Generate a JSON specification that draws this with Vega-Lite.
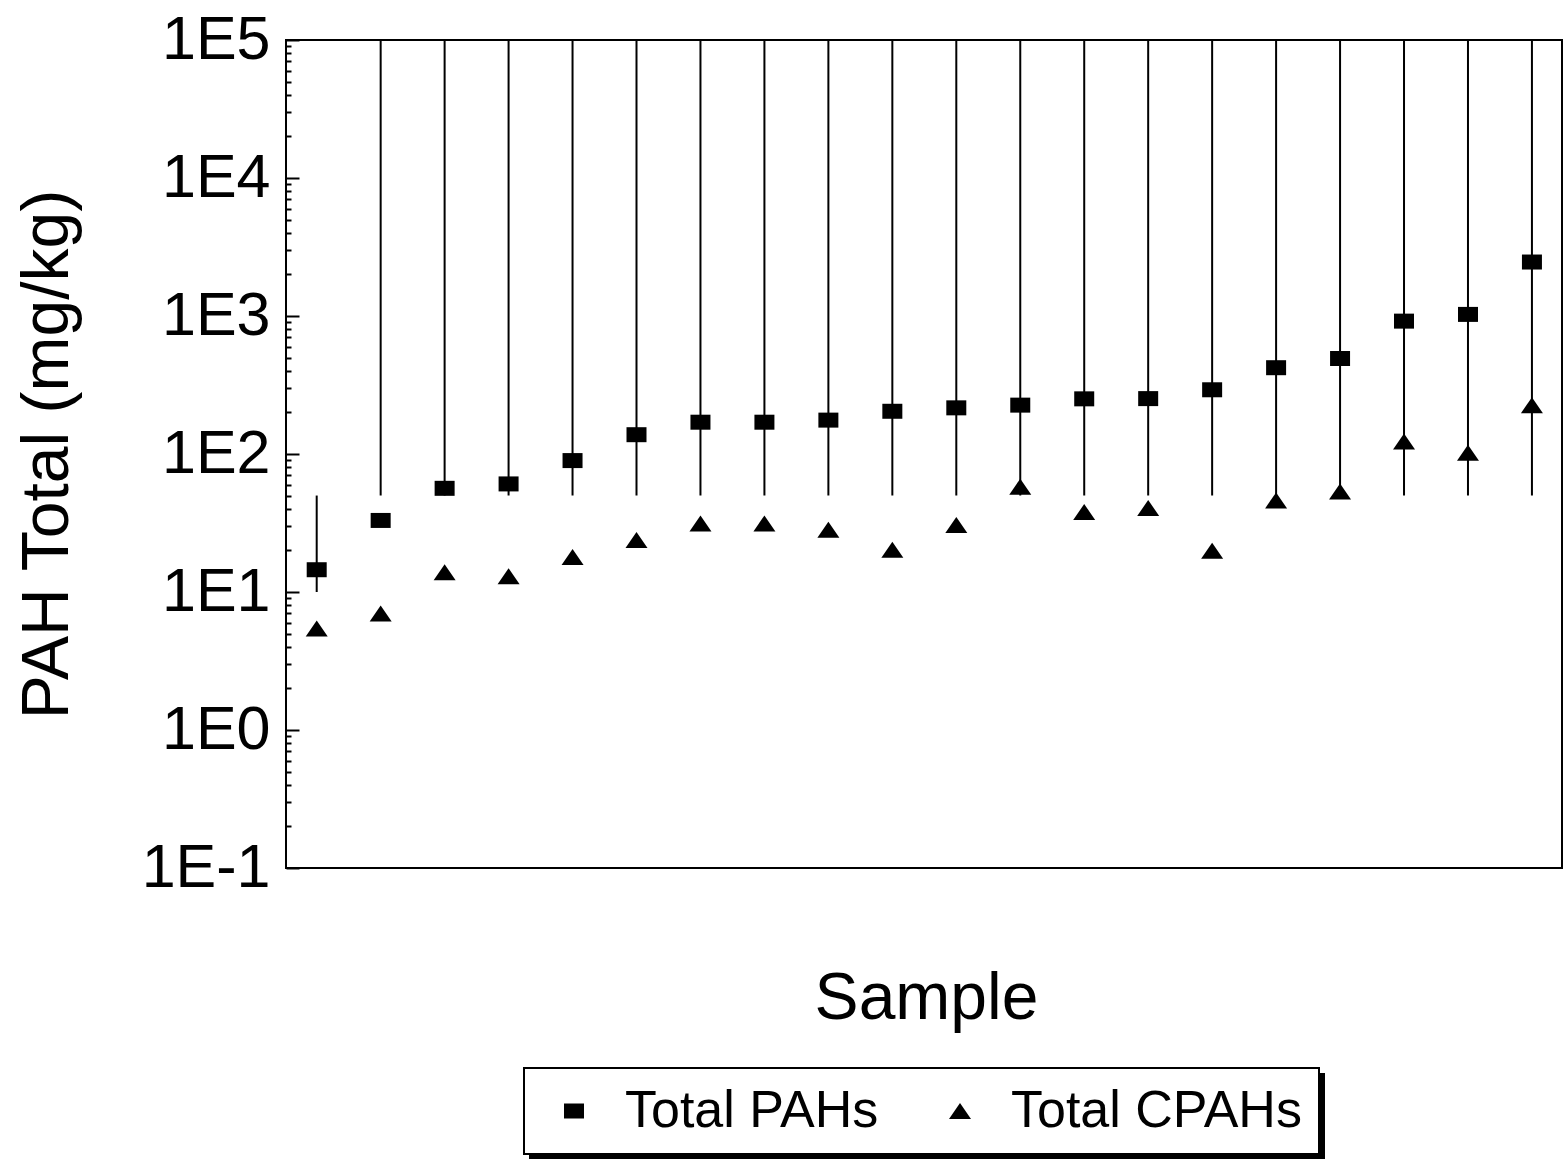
{
  "$schema": "https://vega.github.io/schema/vega-lite/v6.json",
  "autosize": "none",
  "padding": {"left": 286, "top": 40, "right": 4, "bottom": 291},
  "width": 1276,
  "height": 828,
  "background": "white",
  "config": {
    "view": {"stroke": "black", "strokeWidth": 2},
    "font": "Liberation Sans",
    "legend": {"strokeWidth": 2}
  },
  "datasets": {
    "pts": [
      {"sample": 1, "value": 14.5, "series": "Total PAHs", "group": "PAHs"},
      {"sample": 2, "value": 33.0, "series": "Total PAHs", "group": "PAHs"},
      {"sample": 3, "value": 56.4, "series": "Total PAHs", "group": "PAHs"},
      {"sample": 4, "value": 60.7, "series": "Total PAHs", "group": "PAHs"},
      {"sample": 5, "value": 89.6, "series": "Total PAHs", "group": "PAHs"},
      {"sample": 6, "value": 138, "series": "Total PAHs", "group": "PAHs"},
      {"sample": 7, "value": 170, "series": "Total PAHs", "group": "PAHs"},
      {"sample": 8, "value": 170, "series": "Total PAHs", "group": "PAHs"},
      {"sample": 9, "value": 176, "series": "Total PAHs", "group": "PAHs"},
      {"sample": 10, "value": 204, "series": "Total PAHs", "group": "PAHs"},
      {"sample": 11, "value": 216, "series": "Total PAHs", "group": "PAHs"},
      {"sample": 12, "value": 226, "series": "Total PAHs", "group": "PAHs"},
      {"sample": 13, "value": 251, "series": "Total PAHs", "group": "PAHs"},
      {"sample": 14, "value": 252, "series": "Total PAHs", "group": "PAHs"},
      {"sample": 15, "value": 292, "series": "Total PAHs", "group": "PAHs"},
      {"sample": 16, "value": 422, "series": "Total PAHs", "group": "PAHs"},
      {"sample": 17, "value": 492, "series": "Total PAHs", "group": "PAHs"},
      {"sample": 18, "value": 918, "series": "Total PAHs", "group": "PAHs"},
      {"sample": 19, "value": 1027, "series": "Total PAHs", "group": "PAHs"},
      {"sample": 20, "value": 2461, "series": "Total PAHs", "group": "PAHs"},
      {"sample": 1, "value": 5.43, "series": "Total CPAHs", "group": "CPAHs"},
      {"sample": 2, "value": 6.98, "series": "Total CPAHs", "group": "CPAHs"},
      {"sample": 3, "value": 13.9, "series": "Total CPAHs", "group": "CPAHs"},
      {"sample": 4, "value": 13.0, "series": "Total CPAHs", "group": "CPAHs"},
      {"sample": 5, "value": 17.9, "series": "Total CPAHs", "group": "CPAHs"},
      {"sample": 6, "value": 23.8, "series": "Total CPAHs", "group": "CPAHs"},
      {"sample": 7, "value": 31.4, "series": "Total CPAHs", "group": "CPAHs"},
      {"sample": 8, "value": 31.4, "series": "Total CPAHs", "group": "CPAHs"},
      {"sample": 9, "value": 28.3, "series": "Total CPAHs", "group": "CPAHs"},
      {"sample": 10, "value": 20.2, "series": "Total CPAHs", "group": "CPAHs"},
      {"sample": 11, "value": 30.6, "series": "Total CPAHs", "group": "CPAHs"},
      {"sample": 12, "value": 58.0, "series": "Total CPAHs", "group": "CPAHs"},
      {"sample": 13, "value": 38.0, "series": "Total CPAHs", "group": "CPAHs"},
      {"sample": 14, "value": 40.6, "series": "Total CPAHs", "group": "CPAHs"},
      {"sample": 15, "value": 19.9, "series": "Total CPAHs", "group": "CPAHs"},
      {"sample": 16, "value": 46.1, "series": "Total CPAHs", "group": "CPAHs"},
      {"sample": 17, "value": 53.6, "series": "Total CPAHs", "group": "CPAHs"},
      {"sample": 18, "value": 123, "series": "Total CPAHs", "group": "CPAHs"},
      {"sample": 19, "value": 102, "series": "Total CPAHs", "group": "CPAHs"},
      {"sample": 20, "value": 226, "series": "Total CPAHs", "group": "CPAHs"}
    ],
    "bars": [
      {"sample": 1, "lo": 10, "hi": 50},
      {"sample": 2, "lo": 50, "hi": 100000},
      {"sample": 3, "lo": 50, "hi": 100000},
      {"sample": 4, "lo": 50, "hi": 100000},
      {"sample": 5, "lo": 50, "hi": 100000},
      {"sample": 6, "lo": 50, "hi": 100000},
      {"sample": 7, "lo": 50, "hi": 100000},
      {"sample": 8, "lo": 50, "hi": 100000},
      {"sample": 9, "lo": 50, "hi": 100000},
      {"sample": 10, "lo": 50, "hi": 100000},
      {"sample": 11, "lo": 50, "hi": 100000},
      {"sample": 12, "lo": 50, "hi": 100000},
      {"sample": 13, "lo": 50, "hi": 100000},
      {"sample": 14, "lo": 50, "hi": 100000},
      {"sample": 15, "lo": 50, "hi": 100000},
      {"sample": 16, "lo": 50, "hi": 100000},
      {"sample": 17, "lo": 50, "hi": 100000},
      {"sample": 18, "lo": 50, "hi": 100000},
      {"sample": 19, "lo": 50, "hi": 100000},
      {"sample": 20, "lo": 50, "hi": 100000}
    ]
  },
  "layer": [
    {
      "data": {"name": "bars"},
      "mark": {"type": "rule", "color": "black", "strokeWidth": 2},
      "encoding": {
        "x": {
          "field": "sample", "type": "quantitative",
          "scale": {"domain": [0.52, 20.47], "nice": false, "zero": false},
          "axis": {
            "ticks": false, "labels": false, "domain": false, "grid": false,
            "title": "Sample", "titleFontSize": 66, "titleFontWeight": "normal",
            "titleColor": "black", "titleX": 640, "titleY": 150,
            "titleBaseline": "alphabetic", "titleAlign": "center"
          }
        },
        "y": {
          "field": "lo", "type": "quantitative",
          "scale": {"type": "log", "domain": [0.1, 100000], "nice": false},
          "axis": {
            "values": [0.1,0.2,0.3,0.4,0.5,0.6,0.7,0.8,0.9,1,2,3,4,5,6,7,8,9,10,20,30,40,50,60,70,80,90,100,200,300,400,500,600,700,800,900,1000,2000,3000,4000,5000,6000,7000,8000,9000,10000,20000,30000,40000,50000,60000,70000,80000,90000,100000],
            "labelExpr": "abs(log(datum.value)/LN10 - round(log(datum.value)/LN10)) < 0.001 ? '1E' + round(log(datum.value)/LN10) : ''",
            "tickSize": {"condition": {"test": "abs(log(datum.value)/LN10 - round(log(datum.value)/LN10)) < 0.001", "value": -13}, "value": -5},
            "tickWidth": 2, "tickColor": "black",
            "domain": false, "grid": false,
            "labelFontSize": 61, "labelColor": "black", "labelPadding": 29,
            "labelBaseline": "middle", "labelAlign": "right", "labelOverlap": false, "labelBound": false, "labelFlush": false,
            "title": "PAH Total (mg/kg)", "titleFontSize": 66, "titleFontWeight": "normal",
            "titleColor": "black", "titleX": -219, "titleY": 414, "titleAngle": -90,
            "titleBaseline": "alphabetic", "titleAlign": "center"
          }
        },
        "y2": {"field": "hi"}
      }
    },
    {
      "data": {"name": "pts"},
      "mark": {"type": "point", "filled": true, "opacity": 1, "color": "black"},
      "encoding": {
        "x": {"field": "sample", "type": "quantitative"},
        "y": {"field": "value", "type": "quantitative"},
        "shape": {
          "field": "series", "type": "nominal",
          "scale": {"domain": ["Total PAHs", "Total CPAHs"], "range": ["M-1,-0.75H1V0.75H-1Z", "M-1.1,0.8L1.1,0.8L0,-0.8Z"]},
          "legend": {
            "title": null, "orient": "none", "legendX": 238, "legendY": 1028, "direction": "horizontal",
            "fillColor": "white", "strokeColor": "black", "padding": 17, "cornerRadius": 0, "zindex": 5,
            "labelFontSize": 52, "labelColor": "black", "labelOffset": 25, "columnPadding": 48,
            "symbolSize": 400, "symbolFillColor": "black", "symbolStrokeWidth": 0, "symbolOffset": 7,
            "labelLimit": 1000
          }
        },
        "size": {
          "field": "group", "type": "ordinal",
          "scale": {"domain": ["PAHs", "CPAHs"], "range": [400, 400]},
          "legend": {
            "title": null, "orient": "none", "legendX": 244, "legendY": 1034, "direction": "horizontal",
            "fillColor": "black", "strokeColor": "black", "padding": 17, "cornerRadius": 0, "zindex": 1,
            "labelFontSize": 52, "labelColor": "black", "labelOffset": 297, "columnPadding": 48,
            "labelExpr": "' '",
            "symbolType": "M-1,-0.75H1V0.75H-1Z", "symbolFillColor": "black", "symbolStrokeWidth": 0, "symbolOffset": 7,
            "labelLimit": 1000
          }
        }
      }
    }
  ]
}
